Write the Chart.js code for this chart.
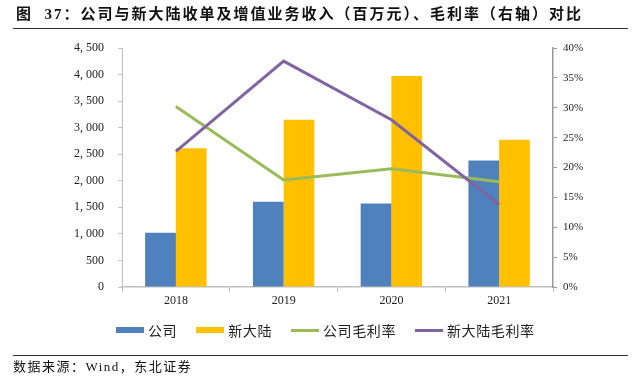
<!DOCTYPE html>
<html>
<head>
<meta charset="utf-8">
<script src="https://cdn.jsdelivr.net/npm/chart.js@4"></script>
<style>
  html, body { margin: 0; padding: 0; background: #fff; }
  #wrap { position: relative; width: 642px; height: 377px; overflow: hidden; }
  #title {
    position: absolute; left: 13px; top: 3px; width: 612px; height: 25px; padding-left: 3px;
    border-bottom: 1.5px solid #333;
    font: bold 15px "Liberation Serif", "Noto Sans CJK SC", serif; color: #111;
    line-height: 22px; letter-spacing: 2px; white-space: nowrap;
  }
  #source {
    position: absolute; left: 13px; top: 355px; width: 615px;
    border-top: 1.5px solid #333;
    font: 13px "Liberation Serif", "Noto Sans CJK SC", serif; color: #111;
    line-height: 21px; letter-spacing: 1.5px;
  }
  #legend {
    position: absolute; left: 116px; top: 320px; height: 20px;
    display: flex; align-items: center;
    font: 14px "Liberation Serif", "Noto Sans CJK SC", serif; color: #222; letter-spacing: 0.6px;
  }
  #legend .item { display: flex; align-items: center; margin-right: 19px; }
  #legend .sw { display: inline-block; width: 28px; margin-right: 4px; }
  #chart { position: absolute; left: 0; top: 0; }
</style>
</head>
<body>
<div id="wrap">
  <canvas id="chart" width="642" height="377"></canvas>
  <div id="title">图&nbsp;&nbsp;37：公司与新大陆收单及增值业务收入（百万元）、毛利率（右轴）对比</div>
  <div id="legend"></div>
  <div id="source">数据来源：Wind，东北证券</div>
</div>
<script>
const years = ["2018", "2019", "2020", "2021"];
const companyRevenue = [1020, 1605, 1570, 2380];
const newlandRevenue = [2612, 3150, 3975, 2772];
const companyMargin = [30.2, 17.9, 19.8, 17.6];
const newlandMargin = [22.7, 37.8, 28.0, 13.8];
const leftTicks = ["0", "500", "1, 000", "1, 500", "2, 000", "2, 500", "3, 000", "3, 500", "4, 000", "4, 500"];

const serif = '"Liberation Serif", "Noto Sans CJK SC", serif';
const axisGray = "#BFBFBF";

const ctx = document.getElementById("chart").getContext("2d");

const chart = new Chart(ctx, {
  data: {
    labels: years,
    datasets: [
      {
        type: "bar",
        label: "公司",
        data: companyRevenue,
        backgroundColor: "#4F81BD",
        yAxisID: "yL",
        order: 2,
      },
      {
        type: "bar",
        label: "新大陆",
        data: newlandRevenue,
        backgroundColor: "#FFC000",
        yAxisID: "yL",
        order: 2,
      },
      {
        type: "line",
        label: "公司毛利率",
        data: companyMargin,
        borderColor: "#9BBB59",
        backgroundColor: "#9BBB59",
        borderWidth: 3,
        pointRadius: 0,
        yAxisID: "yR",
        order: 1,
      },
      {
        type: "line",
        label: "新大陆毛利率",
        data: newlandMargin,
        borderColor: "#8064A2",
        backgroundColor: "#8064A2",
        borderWidth: 3,
        pointRadius: 0,
        yAxisID: "yR",
        order: 0,
      },
    ],
  },
  options: {
    responsive: false,
    animation: false,
    layout: { padding: { top: 48, bottom: 64, left: 0, right: 0 } },
    barPercentage: 1,
    categoryPercentage: 0.57,
    plugins: {
      tooltip: { enabled: false },
      legend: { display: false },
    },
    scales: {
      x: {
        offset: true,
        grid: { display: true, offset: true, drawOnChartArea: false, color: axisGray, tickLength: 5 },
        border: { color: axisGray, width: 1.5 },
        ticks: { color: "#222", font: { family: serif, size: 12 }, padding: 2 },
        afterFit: (s) => { s.height = 26; },
      },
      yL: {
        position: "left",
        min: 0,
        max: 4500,
        grid: { display: true, drawOnChartArea: false, color: axisGray, tickLength: 4 },
        border: { color: axisGray, width: 1 },
        ticks: {
          stepSize: 500,
          color: "#222",
          padding: 14,
          font: { family: serif, size: 12 },
          callback: (v, i) => leftTicks[i],
        },
        afterFit: (s) => { s.width = 122; },
      },
      yR: {
        position: "right",
        min: 0,
        max: 40,
        grid: { display: true, drawOnChartArea: false, color: "#999", tickLength: 4 },
        border: { color: "#999", width: 1.5 },
        ticks: {
          stepSize: 5,
          color: "#222",
          padding: 6,
          font: { family: serif, size: 11 },
          callback: (v) => v + "%",
        },
        afterFit: (s) => { s.width = 89; },
      },
    },
  },
});

// html legend built from the datasets
const legend = document.getElementById("legend");
chart.data.datasets.forEach((ds) => {
  const item = document.createElement("span");
  item.className = "item";
  const sw = document.createElement("span");
  sw.className = "sw";
  sw.style.background = ds.backgroundColor;
  sw.style.height = ds.type === "bar" ? "6px" : "3px";
  item.appendChild(sw);
  item.appendChild(document.createTextNode(ds.label));
  legend.appendChild(item);
});
</script>
</body>
</html>
